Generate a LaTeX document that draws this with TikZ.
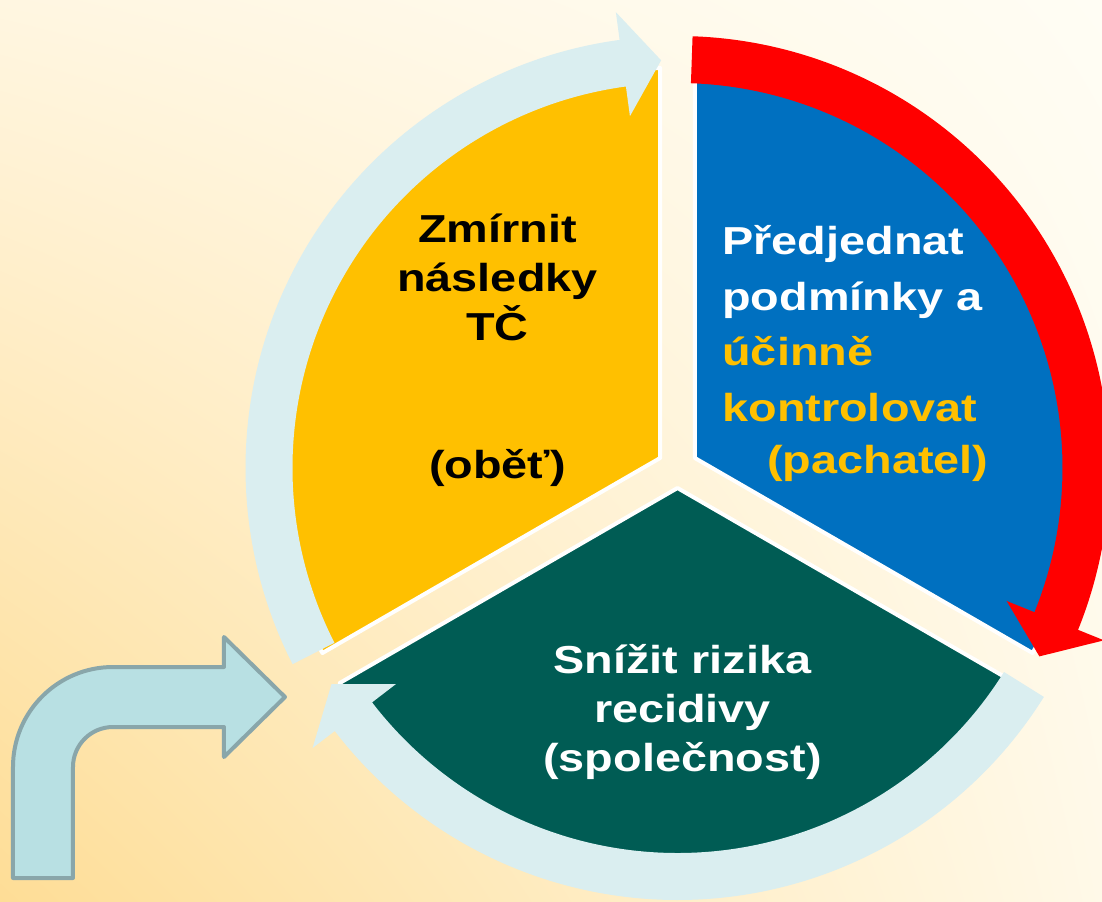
\documentclass[tikz,border=0pt]{standalone}
\usepackage{fontspec}
\setmainfont{Liberation Sans}[FakeStretch=1.2]
\usetikzlibrary{shadings}
\definecolor{sunyellow}{HTML}{FFC000}
\definecolor{deepblue}{HTML}{0070C0}
\definecolor{darkteal}{RGB}{0,92,84}
\definecolor{paleblue}{HTML}{DAEEF0}
\definecolor{bentfill}{RGB}{184,224,227}
\definecolor{bentline}{RGB}{137,166,170}
\definecolor{bgcornerA}{RGB}{254,221,150}
\definecolor{bgcornerB}{RGB}{255,246,225}
\definecolor{bgcornerC}{RGB}{255,253,244}
\definecolor{bgcornerD}{RGB}{255,249,232}
% start angle, end angle, tip angle, colour
\newcommand{\ringarrow}[4]{\fill[#4] (#1:385) arc (#1:#2:385) -- (#2:355) -- (#3:408) -- (#2:460) -- (#2:432) arc (#2:#1:432) -- cycle;}
\begin{document}
\begin{tikzpicture}[x=0.5pt,y=0.5pt,
  sector/.style={draw=white,line width=2pt,line join=round},
  segtext/.style={font=\bfseries\fontsize{19.5}{24.5}\selectfont,inner sep=0pt}]
\useasboundingbox (-677.5,-433) rectangle (424.5,468);
\shade[lower left=bgcornerA,upper left=bgcornerB,upper right=bgcornerC,lower right=bgcornerD] (-677.5,-433) rectangle (424.5,468);
\filldraw[sector,fill=sunyellow] (150:20) -- ++(90:390) arc (90:210:390) -- cycle;
\filldraw[sector,fill=deepblue] (30:20) -- ++(90:390) arc (90:-30:390) -- cycle;
\filldraw[sector,fill=darkteal] (270:20) -- ++(210:390) arc (210:330:390) -- cycle;
\ringarrow{207}{97.7}{92.3}{paleblue}
\ringarrow{328}{217.5}{212}{paleblue}
\ringarrow{88}{-22}{-27.5}{red}
% base anchor sits on the last line
\node[segtext,align=center,anchor=base] (victim) at (-180,-10) {Zmírnit\\následky\\TČ\\[44.5pt](oběť)};
\node[segtext,font=\bfseries\fontsize{19.5}{27.5}\selectfont,align=left,anchor=base west,text=white] (offender) at (44.5,-5) {Předjednat\\[0.5pt]podmínky a\\\textcolor{sunyellow}{účinně}\\[0.5pt]\textcolor{sunyellow}{kontrolovat}\\[-1.5pt]\hspace*{22.5pt}\textcolor{sunyellow}{(pachatel)}};
\node[segtext,align=center,anchor=base,text=white] (society) at (5,-303) {Snížit rizika\\recidivy\\(společnost)};
\filldraw[fill=bentfill,draw=bentline,line width=2pt,line join=round] (-664.5,-410) -- (-664.5,-299) arc (180:90:100) -- (-453.5,-199) -- (-453.5,-169) -- (-392.5,-229) -- (-453.5,-289) -- (-453.5,-259) -- (-564.5,-259) arc (90:180:40) -- (-604.5,-410) -- cycle;
\end{tikzpicture}
\end{document}
